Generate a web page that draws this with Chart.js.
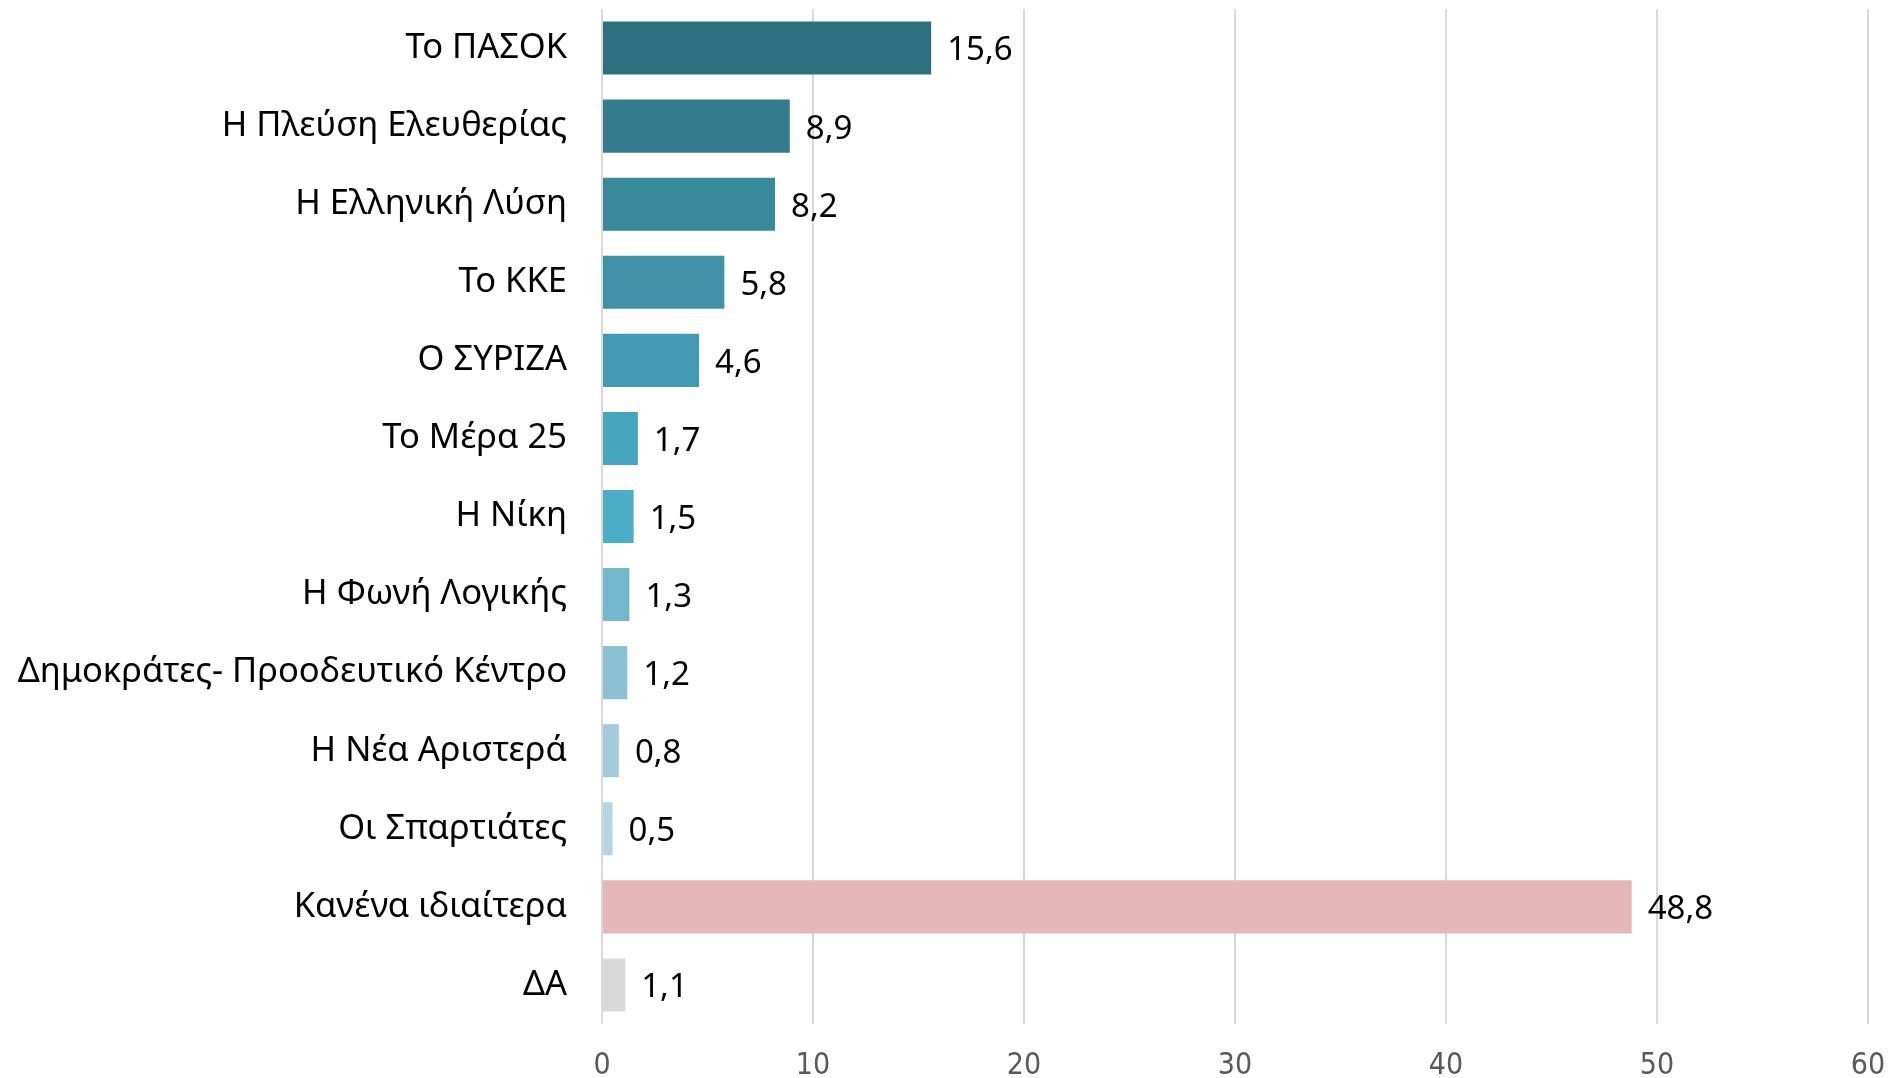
<!DOCTYPE html>
<html>
<head>
<meta charset="utf-8">
<script src="https://cdn.jsdelivr.net/npm/chart.js@4/dist/chart.umd.min.js"></script>
<style>
  html, body { margin: 0; padding: 0; background: #ffffff; }
  #wrap { width: 1893px; height: 1078px; position: relative; }
</style>
</head>
<body>
<div id="wrap"><canvas id="c" width="1893" height="1078"></canvas></div>
<script>
const categories = [
  "Το ΠΑΣΟΚ",
  "Η Πλεύση Ελευθερίας",
  "Η Ελληνική Λύση",
  "Το ΚΚΕ",
  "Ο ΣΥΡΙΖΑ",
  "Το Μέρα 25",
  "Η Νίκη",
  "Η Φωνή Λογικής",
  "Δημοκράτες- Προοδευτικό Κέντρο",
  "Η Νέα Αριστερά",
  "Οι Σπαρτιάτες",
  "Κανένα ιδιαίτερα",
  "ΔΑ"
];
const values = [15.6, 8.9, 8.2, 5.8, 4.6, 1.7, 1.5, 1.3, 1.2, 0.8, 0.5, 48.8, 1.1];
const barColors = [
  "#2f7080", "#347b8e", "#3a889b", "#4091a8", "#439bb3", "#47a5bd", "#4badc6",
  "#72b7cd", "#8bc1d2", "#a3cbd9", "#b4d6e1", "#e6b7b7", "#d9d9d9"
];
const xTicks = [0, 10, 20, 30, 40, 50, 60];

const valueLabels = {
  id: 'valueLabels',
  afterDatasetsDraw(chart) {
    const ctx = chart.ctx;
    const meta = chart.getDatasetMeta(0);
    ctx.save();
    ctx.font = '33px "Noto Sans", sans-serif';
    ctx.fillStyle = '#000000';
    ctx.textAlign = 'left';
    ctx.textBaseline = 'middle';
    meta.data.forEach((bar, i) => {
      const txt = values[i].toFixed(1).replace('.', ',');
      ctx.fillText(txt, bar.x + 16, bar.y + 3);
    });
    ctx.restore();
  }
};

new Chart(document.getElementById('c'), {
  type: 'bar',
  data: {
    labels: categories,
    datasets: [{
      data: values,
      backgroundColor: barColors,
      borderWidth: 0,
      categoryPercentage: 1.0,
      barPercentage: 0.68
    }]
  },
  options: {
    indexAxis: 'y',
    responsive: false,
    animation: false,
    devicePixelRatio: 1,
    layout: { padding: { top: 9, right: 25, left: 0, bottom: 0 } },
    plugins: {
      legend: { display: false },
      tooltip: { enabled: false }
    },
    scales: {
      x: {
        min: 0,
        max: 60,
        afterBuildTicks(scale) { scale.ticks = xTicks.map(v => ({ value: v })); },
        afterFit(scale) {
          scale.height = 54;
          scale.paddingLeft = 0; scale.paddingRight = 0;
          scale.paddingTop = 0; scale.paddingBottom = 0;
        },
        grid: { color: '#d9d9d9', lineWidth: 2, drawTicks: false },
        border: { display: false },
        ticks: {
          padding: 24,
          color: '#595959',
          font: { family: '"Liberation Sans Narrow", "DejaVu Sans Condensed", sans-serif', size: 30 }
        }
      },
      y: {
        afterFit(scale) {
          scale.width = 602;
          scale.paddingLeft = 0; scale.paddingRight = 0;
          scale.paddingTop = 0; scale.paddingBottom = 0;
        },
        grid: { display: false, drawTicks: false },
        border: { display: false },
        ticks: {
          padding: 35,
          color: '#000000',
          font: { family: '"Noto Sans", sans-serif', size: 34.5 }
        }
      }
    }
  },
  plugins: [valueLabels]
});
</script>
</body>
</html>
